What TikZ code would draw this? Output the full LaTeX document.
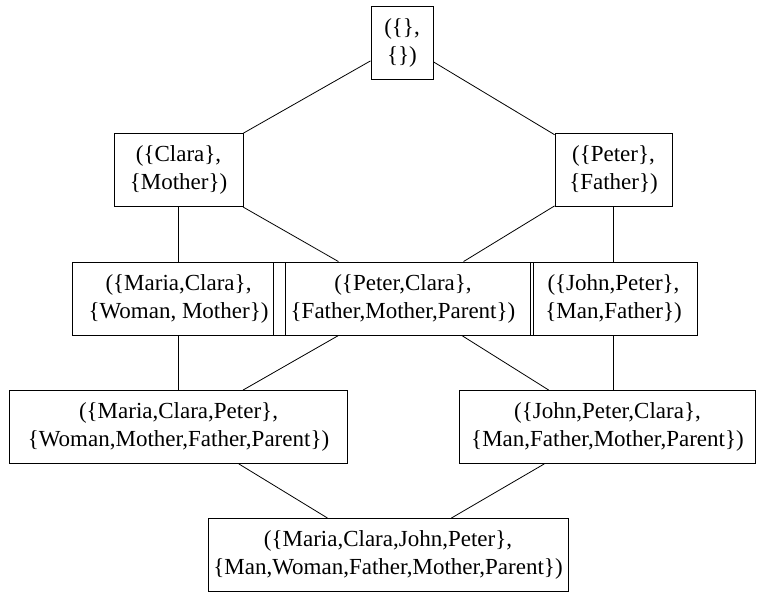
\documentclass[tikz,border=0pt]{standalone}
\usepackage{fontspec}
\setmainfont{Liberation Serif}
\begin{document}
\begin{tikzpicture}[x=1pt,y=-1pt,
  box/.style={draw,line width=0.9pt,rectangle,align=center,inner sep=0pt,
    font=\fontsize{23}{28}\selectfont,minimum height=73pt},
  edge/.style={line width=0.8pt}]
\useasboundingbox (0,0) rectangle (759,594);
\node[box,minimum width=62pt]  (top)   at (402,43)   {(\{\},\\\{\})};
\node[box,minimum width=129pt] (clara) at (178.5,170) {(\{Clara\},\\\{Mother\})};
\node[box,minimum width=117pt] (peter) at (613.5,170) {(\{Peter\},\\\{Father\})};
\node[box,minimum width=213pt] (mc)    at (178.5,298.5) {(\{Maria,Clara\},\\\{Woman, Mother\})};
\node[box,minimum width=260pt] (pc)    at (403,298.5) {(\{Peter,Clara\},\\\{Father,Mother,Parent\})};
\node[box,minimum width=167pt] (jp)    at (613.5,298.5) {(\{John,Peter\},\\\{Man,Father\})};
\node[box,minimum width=338pt] (mcp)   at (178.5,427) {(\{Maria,Clara,Peter\},\\\{Woman,Mother,Father,Parent\})};
\node[box,minimum width=296pt] (jpc)   at (607.5,427) {(\{John,Peter,Clara\},\\\{Man,Father,Mother,Parent\})};
\node[box,minimum width=360pt] (all)   at (388,555) {(\{Maria,Clara,John,Peter\},\\\{Man,Woman,Father,Mother,Parent\})};
\draw[edge] (top) -- (clara);
\draw[edge] (top) -- (peter);
\draw[edge] (clara) -- (mc);
\draw[edge] (clara) -- (pc);
\draw[edge] (peter) -- (pc);
\draw[edge] (peter) -- (jp);
\draw[edge] (mc) -- (mcp);
\draw[edge] (pc) -- (mcp);
\draw[edge] (pc) -- (jpc);
\draw[edge] (jp.south) -- (jp.south |- jpc.north);
\draw[edge] (mcp) -- (all);
\draw[edge] (jpc) -- (all);
\end{tikzpicture}
\end{document}
